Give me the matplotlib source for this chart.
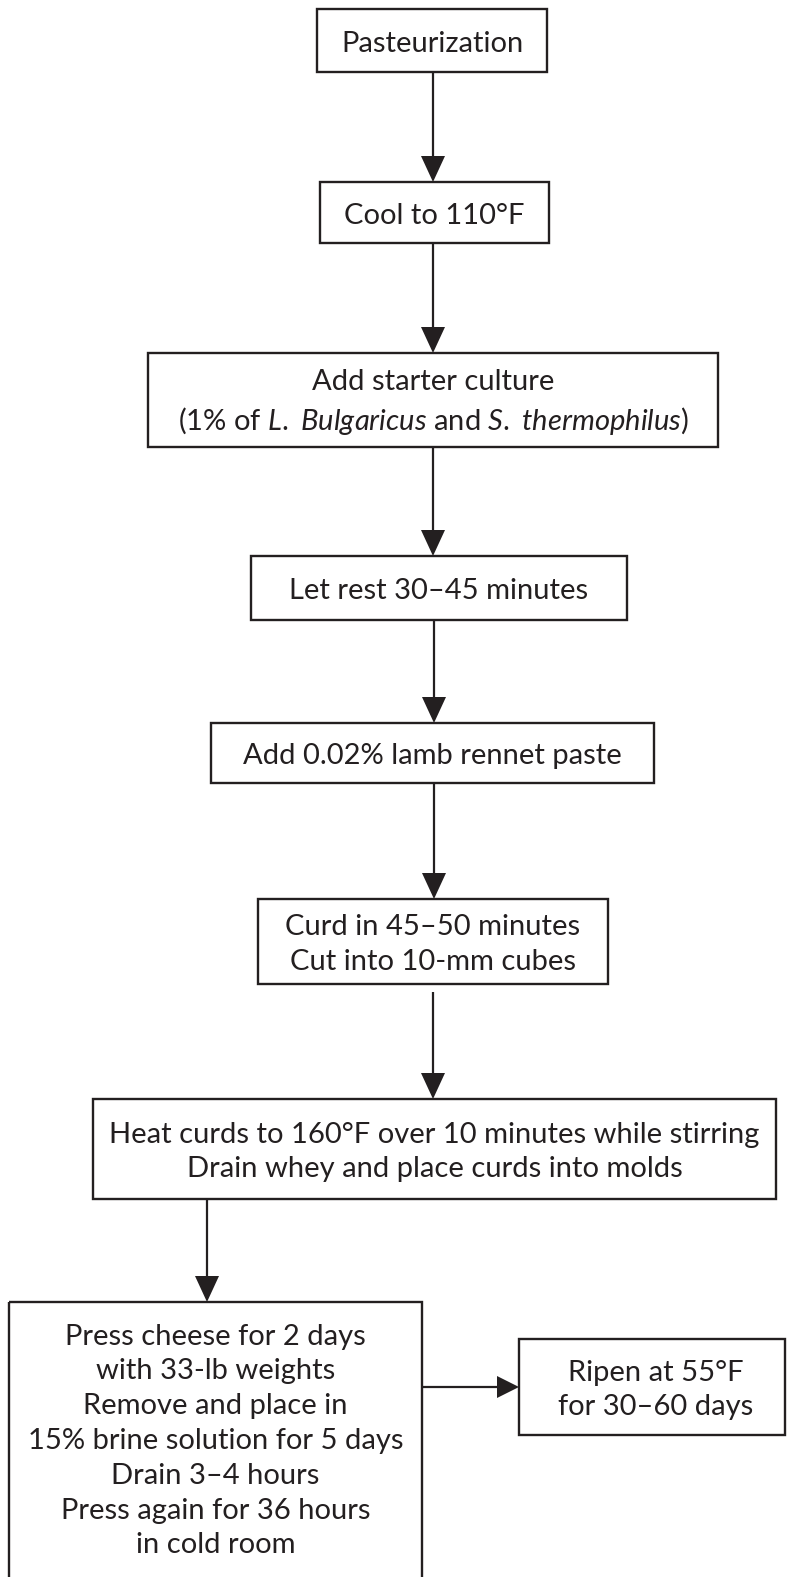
import matplotlib
matplotlib.use('Agg')
import matplotlib.pyplot as plt
from matplotlib.patches import Rectangle, Polygon

plt.rcParams['font.family'] = ['Lato', 'DejaVu Sans']
plt.rcParams['mathtext.fontset'] = 'custom'
plt.rcParams['mathtext.rm'] = 'Lato'
plt.rcParams['mathtext.it'] = 'Lato:italic'

INK = '#231f20'

# steps of the process, top to bottom
steps = [
    "Pasteurization",
    "Cool to 110°F",
    "Add starter culture\n(1% of $\\mathit{L.}$ $\\mathit{Bulgaricus}$ and $\\mathit{S.}$ $\\mathit{thermophilus}$)",
    "Let rest 30–45 minutes",
    "Add 0.02% lamb rennet paste",
    "Curd in 45–50 minutes\nCut into 10-mm cubes",
    "Heat curds to 160°F over 10 minutes while stirring\nDrain whey and place curds into molds",
    "Press cheese for 2 days\nwith 33-lb weights\nRemove and place in\n15% brine solution for 5 days\n"
    "Drain 3–4 hours\nPress again for 36 hours\nin cold room",
    "Ripen at 55°F\nfor 30–60 days",
]

# box layout in pixels: left, top, right, bottom
boxes = [
    (317, 9, 547, 72),
    (320, 182, 549, 243),
    (148, 353, 718, 447),
    (251, 556, 627, 620),
    (211, 723, 654, 783),
    (258, 899, 608, 984),
    (93, 1099, 776, 1199),
    (9, 1302, 422, 1600),
    (519, 1339, 785, 1435),
]

# arrows: x, y_start, y_end (vertical)
v_arrows = [
    (433, 72, 182),
    (433, 243, 353),
    (433, 447, 556),
    (434, 620, 723),
    (434, 783, 899),
    (433, 992, 1099),
    (207, 1199, 1302),
]
# horizontal: y, x_start, x_end
h_arrows = [
    (1387, 422, 519),
]


def draw_vertical_arrow(ax, x, y0, y1, head_len=26, half_w=12):
    ax.plot([x, x], [y0, y1 - head_len + 2], color=INK, lw=1.6, solid_capstyle='butt')
    ax.add_patch(Polygon([(x - half_w, y1 - head_len), (x + half_w, y1 - head_len), (x, y1)],
                         closed=True, facecolor=INK, edgecolor='none'))


def draw_horizontal_arrow(ax, y, x0, x1, head_len=22, half_w=11):
    ax.plot([x0, x1 - head_len + 2], [y, y], color=INK, lw=1.6, solid_capstyle='butt')
    ax.add_patch(Polygon([(x1 - head_len, y - half_w), (x1 - head_len, y + half_w), (x1, y)],
                         closed=True, facecolor=INK, edgecolor='none'))


fig = plt.figure(figsize=(7.87, 15.77), dpi=100)
ax = fig.add_axes([0, 0, 1, 1])
ax.set_xlim(0, 787)
ax.set_ylim(1577, 0)
ax.axis('off')

for (l, t, r, b), label in zip(boxes, steps):
    ax.add_patch(Rectangle((l, t), r - l, b - t, fill=False, edgecolor=INK, lw=1.7))
    cy = (t + b) / 2 + 3
    if b > 1577:
        cy = 1441
    ax.text((l + r) / 2 + (4 if l > 500 else 0), cy, label, ha='center', va='center',
            fontsize=21, color=INK, linespacing=1.42, multialignment='center')

for x, y0, y1 in v_arrows:
    draw_vertical_arrow(ax, x, y0, y1)
for y, x0, x1 in h_arrows:
    draw_horizontal_arrow(ax, y, x0, x1)

fig.savefig('out.png', dpi=100)
